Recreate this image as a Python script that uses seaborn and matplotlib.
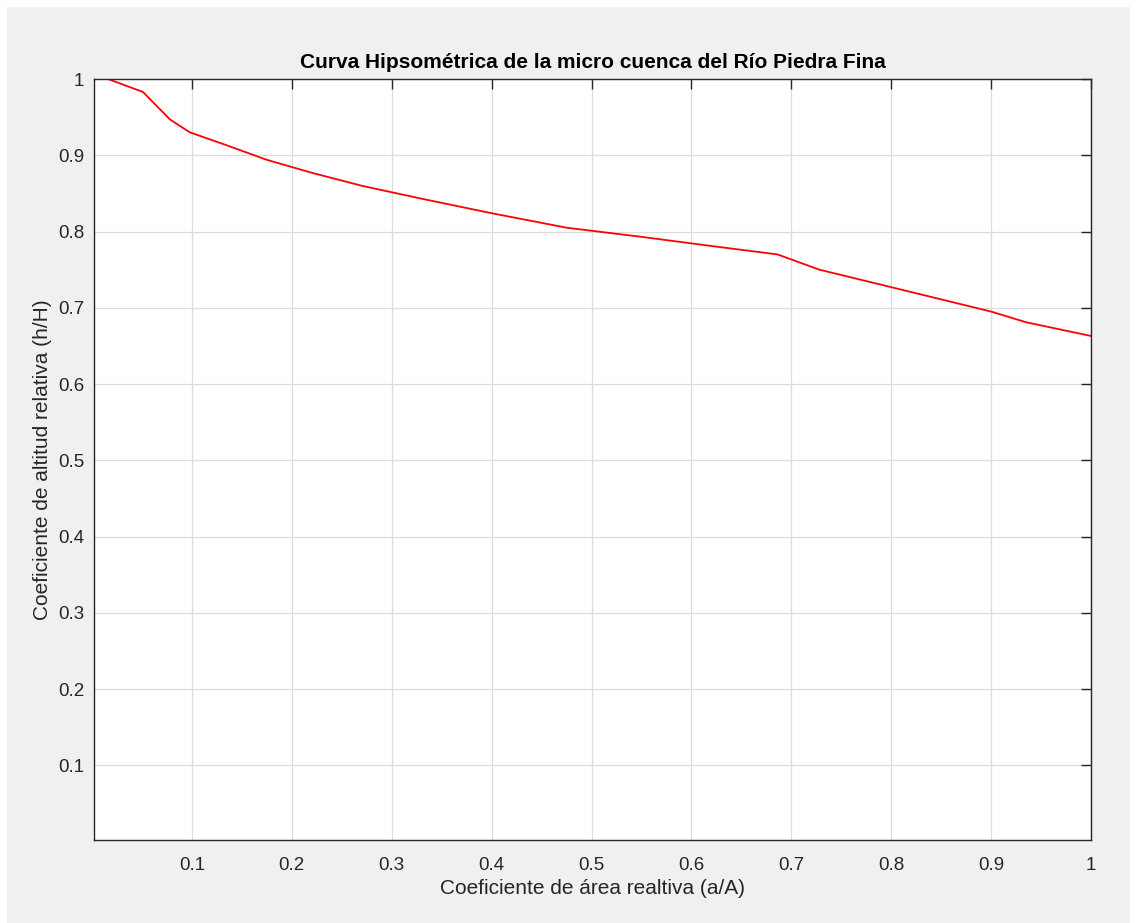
import numpy as np
import pandas as pd
import seaborn as sns
import matplotlib.pyplot as plt
from matplotlib.patches import Rectangle

# Curva hipsométrica
area_rel = [0.016, 0.051, 0.078, 0.098, 0.135, 0.175, 0.22, 0.27, 0.33, 0.40,
            0.475, 0.55, 0.62, 0.686, 0.728, 0.80, 0.85, 0.90, 0.935, 1.0]
altitud_rel = [1.0, 0.983, 0.947, 0.930, 0.913, 0.894, 0.877, 0.860, 0.843, 0.824,
               0.805, 0.793, 0.781, 0.770, 0.750, 0.727, 0.711, 0.695, 0.681, 0.663]
ticks = [0.1, 0.2, 0.3, 0.4, 0.5, 0.6, 0.7, 0.8, 0.9, 1]
tick_labels = ["0.1", "0.2", "0.3", "0.4", "0.5", "0.6", "0.7", "0.8", "0.9", "1"]

df = pd.DataFrame({"a/A": area_rel, "h/H": altitud_rel})

sns.set_style("white")
plt.rcParams['font.family'] = ['Liberation Sans', 'DejaVu Sans']

fig = plt.figure(figsize=(11.37, 9.23), dpi=100, facecolor="white")
fig.patches.append(Rectangle((7 / 1137, 0), 1 - 14 / 1137, 1 - 7 / 923,
                             transform=fig.transFigure, facecolor="#f0f0f0",
                             edgecolor="none", zorder=-10))
ax = fig.add_axes([94 / 1137, 1 - 840 / 923, 997 / 1137, 761 / 923])
ax.set_facecolor("white")

sns.lineplot(data=df, x="a/A", y="h/H", color="#ff0000", linewidth=1.3,
             sort=False, ax=ax)

ax.set_xlim(0.002, 1)
ax.set_ylim(0.002, 1)
ax.set_xticks(ticks)
ax.set_xticklabels(tick_labels)
ax.set_yticks(ticks)
ax.set_yticklabels(tick_labels)
ax.grid(True, color="#dcdcdc", linewidth=0.9)
ax.tick_params(direction="in", length=7, width=1, color="#262626",
               labelcolor="#262626", labelsize=13.5, top=True, right=True)
ax.tick_params(axis="x", pad=12)
ax.tick_params(axis="y", pad=7)
for s in ax.spines.values():
    s.set_color("#262626")
    s.set_linewidth(1)

ax.set_xlabel("Coeficiente de área realtiva (a/A)", fontsize=15, color="#262626")
ax.set_ylabel("Coeficiente de altitud relativa (h/H)", fontsize=15, color="#262626")
ax.set_title("Curva Hipsométrica de la micro cuenca del Río Piedra Fina",
             fontsize=15, fontweight="bold", color="black", pad=8)

fig.savefig("out.png", dpi=100, facecolor=fig.get_facecolor())
